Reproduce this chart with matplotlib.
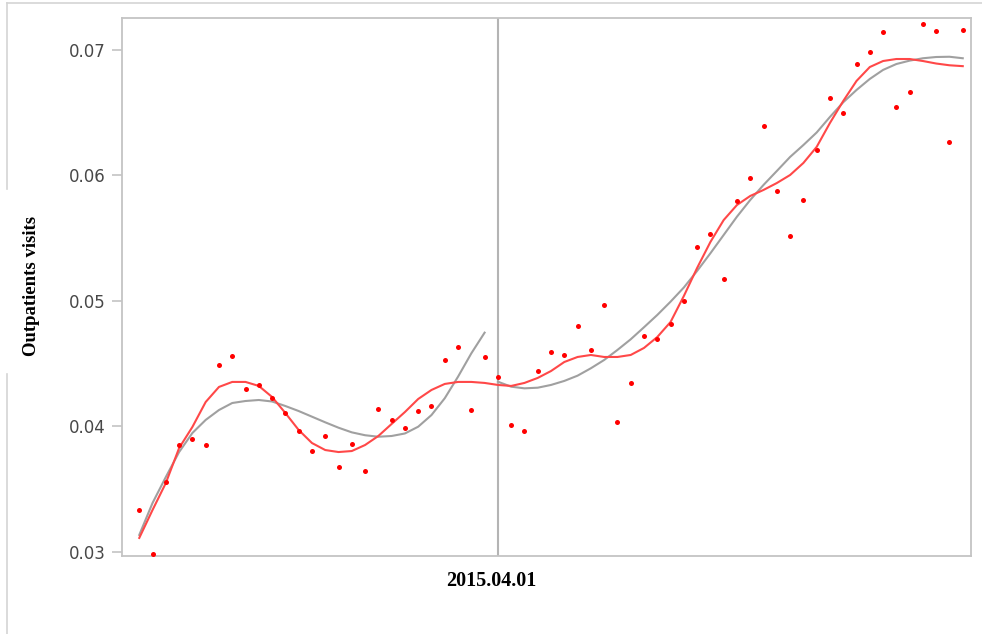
import numpy as np
import matplotlib
matplotlib.use("Agg")
import matplotlib.pyplot as plt
from matplotlib.lines import Line2D
from matplotlib.transforms import ScaledTranslation

# monthly observations, month 27 = 2015.04.01 (intervention)
visits = [0.03332, 0.02981, 0.03557, 0.03848, 0.03900, 0.03848, 0.04486, 0.04562,
          0.04299, 0.04331, 0.04225, 0.04103, 0.03964, 0.03805, 0.03919, 0.03675,
          0.03856, 0.03643, 0.04135, 0.04049, 0.03986, 0.04121, 0.04161, 0.04526,
          0.04629, 0.04127, 0.04552, 0.04392, 0.04007, 0.03959, 0.04438, 0.04592,
          0.04565, 0.04797, 0.04608, 0.04969, 0.04031, 0.04342, 0.04722, 0.04693,
          0.04817, 0.04998, 0.05429, 0.05535, 0.05171, 0.05796, 0.05982, 0.06394,
          0.05873, 0.05514, 0.05804, 0.06205, 0.06615, 0.06495, 0.06886, 0.06984,
          0.07141, 0.06548, 0.06663, 0.07205, 0.07149, 0.06269, 0.07159]

# smooth trend over the whole period (red)
smooth = [0.03109, 0.03332, 0.03547, 0.03826, 0.03994, 0.04193, 0.04313, 0.04353,
          0.04353, 0.04321, 0.04233, 0.04105, 0.03970, 0.03866, 0.03810, 0.03794,
          0.03802, 0.03850, 0.03922, 0.04018, 0.04113, 0.04217, 0.04289, 0.04337,
          0.04353, 0.04353, 0.04345, 0.04329, 0.04321, 0.04345, 0.04385, 0.04440,
          0.04512, 0.04552, 0.04568, 0.04552, 0.04552, 0.04568, 0.04624, 0.04711,
          0.04831, 0.05038, 0.05262, 0.05469, 0.05644, 0.05764, 0.05836, 0.05884,
          0.05939, 0.06003, 0.06099, 0.06227, 0.06418, 0.06593, 0.06753, 0.06864,
          0.06912, 0.06928, 0.06928, 0.06912, 0.06892, 0.06878, 0.06871]

# segmented trend before / after the break (gray)
trend_pre = [0.03133, 0.03388, 0.03595, 0.03794, 0.03946, 0.04050, 0.04129, 0.04185,
             0.04201, 0.04209, 0.04197, 0.04161, 0.04121, 0.04076, 0.04031, 0.03988,
             0.03951, 0.03928, 0.03916, 0.03922, 0.03942, 0.03996, 0.04089, 0.04223,
             0.04395, 0.04581, 0.04746]
trend_post = [0.04355, 0.04315, 0.04302, 0.04307, 0.04329, 0.04361, 0.04403, 0.04462,
              0.04528, 0.04608, 0.04693, 0.04789, 0.04887, 0.04993, 0.05106, 0.05238,
              0.05379, 0.05525, 0.05671, 0.05804, 0.05924, 0.06035, 0.06147, 0.06242,
              0.06342, 0.06466, 0.06583, 0.06681, 0.06769, 0.06841, 0.06888, 0.06915,
              0.06934, 0.06944, 0.06946, 0.06934]

break_idx = 27
break_label = "2015.04.01"
yticks = [0.03, 0.04, 0.05, 0.06, 0.07]

months = np.arange(len(visits))

fig = plt.figure(figsize=(9.82, 6.34), dpi=100)
ax = fig.add_axes([0.12424, 0.12303, 0.86456, 0.84858])

ax.axvline(break_idx, color="#b4b4b4", lw=1.5, zorder=1)
ax.plot(months[:break_idx], trend_pre, color="#a0a0a0", lw=1.5, zorder=2,
        solid_joinstyle="round")
ax.plot(months[break_idx:], trend_post, color="#a0a0a0", lw=1.5, zorder=2,
        solid_joinstyle="round")
ax.plot(months, smooth, color="#ff4848", lw=1.5, zorder=3, solid_joinstyle="round")
ax.scatter(months, visits, s=13, color="#ff0000", lw=0, zorder=4)

ax.set_xlim(-1.30, 62.62)
ax.set_ylim(0.02965, 0.07255)

for sp in ax.spines.values():
    sp.set_color("#c4c4c4")
    sp.set_linewidth(1.3)

ax.set_yticks(yticks)
ax.set_yticklabels(["%.2f" % v for v in yticks])
ax.tick_params(axis="y", length=7, width=1.2, color="#c4c4c4",
               labelcolor="#484848", labelsize=12, pad=5)

ax.set_xticks([break_idx])
ax.set_xticklabels([break_label], fontfamily="Liberation Serif",
                   fontweight="bold", fontsize=14.5)
ax.tick_params(axis="x", length=0, pad=11)
for lab in ax.get_xticklabels():
    lab.set_transform(lab.get_transform() + ScaledTranslation(-0.065, 0, fig.dpi_scale_trans))

fig.text(32 / 982, 1 - 286 / 634, "Outpatients visits", rotation=90,
         ha="center", va="center", fontfamily="Liberation Serif",
         fontweight="bold", fontsize=13.5)

# outer frame of the original figure, broken behind the y label
fc = "#d4d4d4"
fig.add_artist(Line2D([7 / 982, 1], [1 - 3 / 634] * 2, color=fc, lw=1.2))
fig.add_artist(Line2D([7 / 982] * 2, [1 - 3 / 634, 1 - 189 / 634], color=fc, lw=1.2))
fig.add_artist(Line2D([7 / 982] * 2, [1 - 374 / 634, 0], color=fc, lw=1.2))

fig.savefig("out.png", dpi=100)
